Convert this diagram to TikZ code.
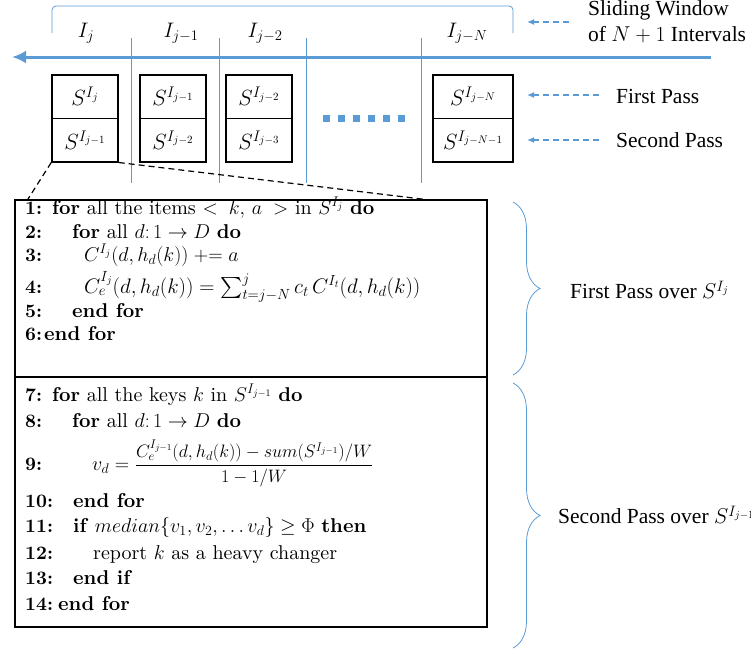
\documentclass[tikz,border=0pt]{standalone}
\usepackage{fix-cm}
\DeclareFontFamily{OMX}{cmex}{}
\DeclareFontShape{OMX}{cmex}{m}{n}{<-> cmex10}{}
\usepackage{fontspec}
\setmainfont{lmroman10-regular.otf}[BoldFont=lmroman10-bold.otf, ItalicFont=lmroman10-italic.otf, BoldItalicFont=lmroman10-bolditalic.otf]
\newfontfamily\timesfont{Liberation Serif}
\usetikzlibrary{arrows.meta,decorations.pathreplacing}
\definecolor{wblue}{RGB}{91,155,213}
\newcommand{\algsz}{\fontsize{20}{24}\selectfont}
\tikzset{
  thinblue/.style={draw=wblue, line width=0.8pt},
  sbox/.style={draw, line width=1.5pt, minimum width=66pt, minimum height=43.5pt, inner sep=0pt, font=\fontsize{22}{26}\selectfont},
  algnum/.style={anchor=mid west, inner sep=0pt, font=\fontsize{19}{24}\selectfont\bfseries},
  algline/.style={anchor=mid west, inner sep=0pt, font=\algsz},
  lbl/.style={anchor=west, inner sep=0pt, font=\timesfont\fontsize{21.5}{26}\selectfont},
  ilbl/.style={inner sep=0pt, font=\fontsize{21}{24}\selectfont},
  dasharrow/.style={draw=wblue, line width=1.3pt, dash pattern=on 6pt off 4pt, {Latex[length=7pt,width=6pt]}-},
  algbox/.style={draw, line width=1.5pt, minimum width=472pt, inner sep=0pt},
  bracebl/.style={draw=wblue, line width=0.8pt, decorate, decoration={brace, amplitude=27pt}},
}
\begin{document}
\begin{tikzpicture}[x=1pt,y=-1pt]
\useasboundingbox (0,0) rectangle (751,654);

% sliding window bracket
\draw[thinblue, rounded corners=4pt] (52,33) -- (52,6) -- (513,6) -- (513,33);

% main arrow
\coordinate (arrR) at (711,57);
\coordinate (arrL) at (12,57);
\draw[wblue, line width=3pt, -{Latex[length=14pt,width=13pt]}] (arrR) -- (arrL);

% vertical separators
\foreach \x in {131,219,306,421}{
  \draw[thinblue] (\x,38) -- (\x,183);
}

% interval labels
\node[ilbl] (Ij) at (86,33) {$I_j$};
\node[ilbl] (Ij1) at (181,33) {$I_{j-1}$};
\node[ilbl] (Ij2) at (265,33) {$I_{j-2}$};
\node[ilbl] (IjN) at (467,33) {$I_{j-N}$};

% sketch boxes
\node[sbox] (b1t) at (85,96.5) {$S^{I_j}$};
\node[sbox] (b1b) at (85,140) {$S^{I_{j-1}}$};
\node[sbox] (b2t) at (173,96.5) {$S^{I_{j-1}}$};
\node[sbox] (b2b) at (173,140) {$S^{I_{j-2}}$};
\node[sbox] (b3t) at (259,96.5) {$S^{I_{j-2}}$};
\node[sbox] (b3b) at (259,140) {$S^{I_{j-3}}$};
\node[sbox, minimum width=80pt] (b4t) at (473,96.5) {$S^{I_{j-N}}$};
\node[sbox, minimum width=80pt] (b4b) at (473,140) {$S^{I_{j-N-1}}$};

% dotted squares
\draw[wblue, line width=7pt, dash pattern=on 7pt off 8pt] (323,118) -- (405,118);

% right labels
\node[lbl, align=left] (sw) at (588,22) {Sliding Window\\of $N+1$ Intervals};
\node[lbl] (fp) at (616,96) {First Pass};
\node[lbl] (sp) at (616,140) {Second Pass};
\coordinate (a1s) at (570,22); \coordinate (a1e) at (527,22);
\coordinate (a2s) at (600,95); \coordinate (a2e) at (527,95);
\coordinate (a3s) at (600,140); \coordinate (a3e) at (527,140);
\draw[dasharrow] (a1e) -- (a1s);
\draw[dasharrow] (a2e) -- (a2s);
\draw[dasharrow] (a3e) -- (a3s);

% algorithm boxes
\node[algbox, minimum height=177pt] (alg1) at (251,288.5) {};
\node[algbox, minimum height=250pt] (alg2) at (251,502) {};

% zoom dashed lines
\coordinate (zl) at (28,199);
\coordinate (zr) at (430,200);
\draw[dashed, line width=1.2pt, dash pattern=on 6pt off 4pt] (b1b.south west) -- (zl);
\draw[dashed, line width=1.2pt, dash pattern=on 6pt off 4pt] (b1b.south east) -- (zr);

% algorithm lines
\node[algnum] (n1) at (25,212) {1:};
\node[algline] (l1) at (52,212) {\textbf{for} all the items $<\;k,\,a\;>$ in $S^{I_j}$ \textbf{do}};
\node[algnum] (n2) at (25,236) {2:};
\node[algline] (l2) at (72,236) {\textbf{for} all $d\colon 1\rightarrow D$ \textbf{do}};
\node[algnum] (n3) at (25,259) {3:};
\node[algline] (l3) at (84,259) {$C^{I_j}\bigl(d,h_d(k)\bigr) \mathrel{+{=}} a$};
\node[algnum] (n4) at (25,291) {4:};
\node[algline, font=\fontsize{21}{26}\selectfont] (l4) at (84,291) {$C_e^{I_j}(d,h_d(k)) = \sum_{t=j-N}^{j} c_t\, C^{I_t}(d,h_d(k))$};
\node[algnum] (n5) at (25,315) {5:};
\node[algline] (l5) at (72,315) {\textbf{end for}};
\node[algnum] (n6) at (25,338) {6:};
\node[algline] (l6) at (44,338) {\textbf{end for}};

\node[algnum] (n7) at (25,399) {7:};
\node[algline] (l7) at (52,399) {\textbf{for} all the keys $k$ in $S^{I_{j-1}}$ \textbf{do}};
\node[algnum] (n8) at (25,425) {8:};
\node[algline] (l8) at (72,425) {\textbf{for} all $d\colon 1\rightarrow D$ \textbf{do}};
\node[algnum] (n9) at (25,468) {9:};
\node[algline] (l9) at (92,468) {$v_d = \mbox{\fontsize{18}{20}\selectfont$\displaystyle\frac{C_e^{I_{j-1}}(d,h_d(k)) - sum(S^{I_{j-1}})/W}{1-1/W}$}$};
\node[algnum] (n10) at (25,505) {10:};
\node[algline] (l10) at (73,505) {\textbf{end for}};
\node[algnum] (n11) at (25,530) {11:};
\node[algline] (l11) at (73,530) {\textbf{if} $median\{v_1,v_2,\ldots v_d\} \geq \Phi$ \textbf{then}};
\node[algnum] (n12) at (25,557) {12:};
\node[algline] (l12) at (93,557) {report $k$ as a heavy changer};
\node[algnum] (n13) at (25,582) {13:};
\node[algline] (l13) at (73,582) {\textbf{end if}};
\node[algnum] (n14) at (25,608) {14:};
\node[algline] (l14) at (58,608) {\textbf{end for}};

% braces
\coordinate (br1t) at (513,202); \coordinate (br1b) at (513,375);
\coordinate (br2t) at (513,383); \coordinate (br2b) at (513,648);
\draw[bracebl] (br1t) -- (br1b);
\draw[bracebl] (br2t) -- (br2b);
\node[lbl] (fpo) at (570,290) {First Pass over $S^{I_j}$};
\node[lbl] (spo) at (558,515) {Second Pass over $S^{I_{j-1}}$};
\end{tikzpicture}
\end{document}
